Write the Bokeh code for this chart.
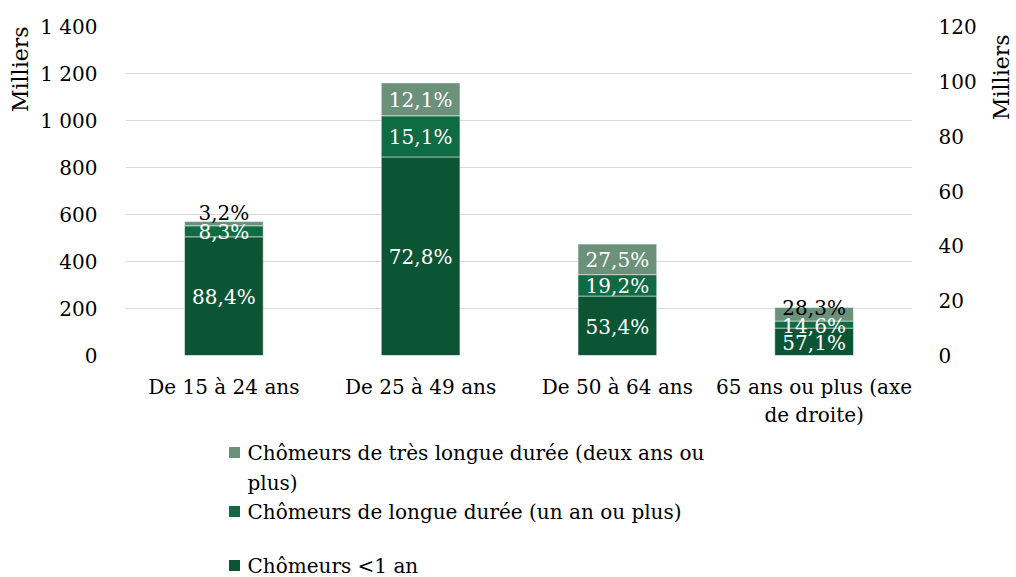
import math
import textwrap
from bokeh.plotting import figure
from bokeh.models import (ColumnDataSource, Range1d, LinearAxis,
                          FixedTicker, Title)
from bokeh.layouts import column, row
from bokeh.core.properties import value
from bokeh.embed import file_html
from bokeh.resources import INLINE

# ---------------- data ----------------
categories = ["De 15 à 24 ans", "De 25 à 49 ans", "De 50 à 64 ans",
              "65 ans ou plus (axe\nde droite)"]
# thousands (last category read on the right axis)
moins_1_an = [505, 845, 253, 10.0]
longue = [47, 175, 91, 2.55]
tres_longue = [18, 140, 130, 4.95]
pct_moins_1_an = ["88,4%", "72,8%", "53,4%", "57,1%"]
pct_longue = ["8,3%", "15,1%", "19,2%", "14,6%"]
pct_tres_longue = ["3,2%", "12,1%", "27,5%", "28,3%"]
left_ticks = [0, 200, 400, 600, 800, 1000, 1200, 1400]
right_ticks = [0, 20, 40, 60, 80, 100, 120]
series_names = ["Chômeurs <1 an", "Chômeurs de longue durée (un an ou plus)",
                "Chômeurs de très longue durée (deux ans ou plus)"]
colors = ["#0B5535", "#0E6B43", "#6B917A"]

FONT = "DejaVu Serif"
FS = "20px"
FS_T = "22px"

n = len(categories)
xpos = [i + 0.5 for i in range(n)]

p = figure(width=982, height=442, x_range=Range1d(0, n),
           y_range=Range1d(0, 1400), output_backend="svg", toolbar_location=None,
           min_border_left=115, min_border_right=70, min_border_top=26,
           min_border_bottom=87)
p.extra_y_ranges = {"right": Range1d(0, 120)}
p.outline_line_color = None
p.xgrid.grid_line_color = None
p.ygrid.ticker = FixedTicker(ticks=left_ticks)
p.ygrid.grid_line_color = "#d9d9d9"
p.ygrid.grid_line_width = 1

p.xaxis.ticker = FixedTicker(ticks=xpos)
p.xaxis.major_label_overrides = {x: c for x, c in zip(xpos, categories)}
p.yaxis.ticker = FixedTicker(ticks=left_ticks)
p.yaxis.major_label_overrides = {t: f"{t:,}".replace(",", " ") for t in left_ticks}
ra = LinearAxis(y_range_name="right", ticker=FixedTicker(ticks=right_ticks))
p.add_layout(ra, "right")

for ax in [p.xaxis[0], p.yaxis[0], ra]:
    ax.axis_line_color = None
    ax.major_tick_line_color = None
    ax.minor_tick_line_color = None
    ax.major_label_text_font = FONT
    ax.major_label_text_font_size = FS
    ax.major_label_text_color = "#000000"
p.yaxis[0].major_label_standoff = 22
ra.major_label_standoff = 20
p.xaxis[0].major_label_standoff = 13

p.add_layout(Title(text="Milliers", align="right", text_font=FONT,
                   text_font_size=FS_T, text_font_style="normal",
                   text_color="#000000"), "left")

keys = ["a", "b", "c"]
for idx, rng in [([0, 1, 2], "default"), ([3], "right")]:
    src = ColumnDataSource(dict(
        x=[xpos[i] for i in idx],
        a=[moins_1_an[i] for i in idx],
        b=[longue[i] for i in idx],
        c=[tres_longue[i] for i in idx]))
    p.vbar_stack(keys, x="x", width=0.4, color=colors, source=src,
                 y_range_name=rng, line_color="white", line_alpha=0.5, line_width=1)

# data labels
series_vals = [moins_1_an, longue, tres_longue]
series_pct = [pct_moins_1_an, pct_longue, pct_tres_longue]
outside = {(0, 2): -9, (3, 2): 0}
for i in range(n):
    rng = "right" if i == 3 else "default"
    base = 0
    for s in range(3):
        v = series_vals[s][i]
        if (i, s) in outside:
            p.text(x=[xpos[i]], y=[base + v], text=[series_pct[s][i]], y_range_name=rng,
                   text_font=value(FONT), text_font_size=FS, text_color="#000000",
                   text_align="center", text_baseline="alphabetic",
                   y_offset=outside[(i, s)])
        else:
            p.text(x=[xpos[i]], y=[base + v / 2], text=[series_pct[s][i]], y_range_name=rng,
                   text_font=value(FONT), text_font_size=FS, text_color="#ffffff",
                   text_align="center", text_baseline="middle", y_offset=1)
        base += v


def blank(w, h):
    f = figure(frame_width=w, frame_height=h, x_range=Range1d(0, w), y_range=Range1d(0, h),
               output_backend="svg", toolbar_location=None, min_border=0,
               min_border_left=0, min_border_right=0, min_border_top=0,
               min_border_bottom=0, x_axis_location=None, y_axis_location=None)
    f.grid.visible = False
    f.outline_line_color = None
    return f


# right axis title
RW = 32
rf = blank(RW, 442)
rf.text(x=[19], y=[442 - 8], text=["Milliers"], angle=math.pi / 2,
        text_font=value(FONT), text_font_size=FS_T, text_color="#000000",
        text_align="right", text_baseline="middle")

# legend
LH = 134
lg = blank(1000, LH)
row_y = [10, 69, 123]  # top series first (pixels from top)
order = [2, 1, 0]
for r, s in enumerate(order):
    lines = textwrap.wrap(series_names[s], 42)
    lg.scatter(x=[234], y=[LH - row_y[r]], marker="square", size=11, color=colors[s],
               line_color=None)
    for k, ln in enumerate(lines):
        lg.text(x=[247], y=[LH - row_y[r] - 30 * k], text=[ln], text_font=value(FONT),
                text_font_size=FS, text_color="#000000", text_baseline="middle")

layout = column(row(p, rf, spacing=0), lg, spacing=0)
open("out.html", "w").write(file_html(layout, INLINE))
